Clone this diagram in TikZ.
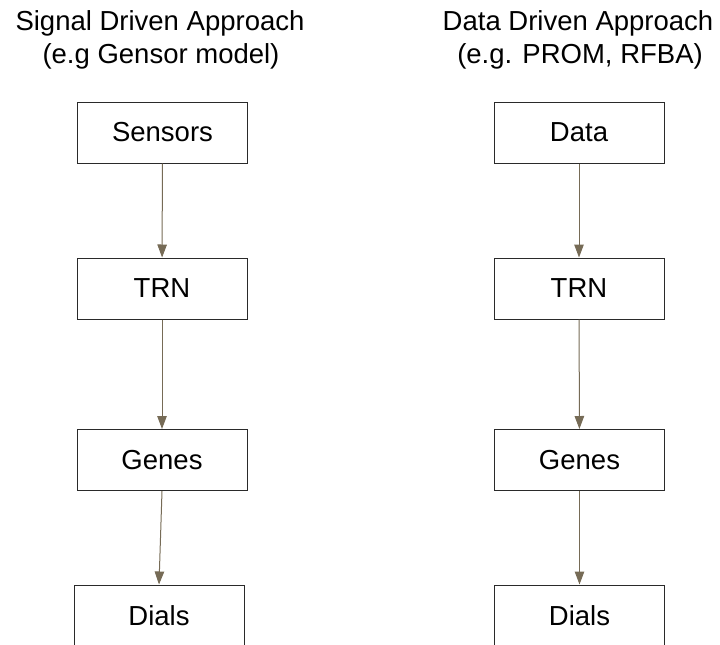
\documentclass[tikz,border=0pt]{standalone}
\usepackage{fontspec}
\setmainfont{Liberation Sans}
\usetikzlibrary{arrows.meta}
\definecolor{linkcol}{HTML}{766B56}
\definecolor{boxline}{HTML}{2A2A2A}
\tikzset{
  stage/.style={draw=boxline, line width=1pt, fill=white, minimum width=170pt,
    minimum height=61pt, inner sep=0pt, font=\fontsize{27.5}{33}\selectfont},
  heading/.style={inner sep=0pt, anchor=base, font=\fontsize{27.5}{33}\selectfont},
  link/.style={draw=linkcol, line width=1pt,
    -{Triangle[length=13pt, width=9.5pt]}}
}
\begin{document}
\begin{tikzpicture}[x=1pt, y=-1pt]
  \useasboundingbox (0,0) rectangle (720,645);

  % column headings
  \node[heading] (lt1) at (160,30) {Signal Driven Approach};
  \node[heading] (lt2) at (161,63) {(e.g Gensor model)};
  \node[heading] (rt1) at (578,30) {Data Driven Approach};
  \node[heading] (rt2) at (580,63) {(e.g. PROM, RFBA)};

  % signal driven chain
  \node[stage] (sens)  at (162.5,132.5) {Sensors};
  \node[stage] (ltrn)  at (162,288.5)   {TRN};
  \node[stage] (lgen)  at (162,460)     {Genes};
  \node[stage] (ldial) at (159,615.5)   {Dials};

  % data driven chain
  \node[stage] (data)  at (579,132.5) {Data};
  \node[stage] (rtrn)  at (579,288.5) {TRN};
  \node[stage] (rgen)  at (579.5,460) {Genes};
  \node[stage] (rdial) at (579.5,615.5) {Dials};

  \draw[link] (sens) -- (ltrn);
  \draw[link] (ltrn) -- (lgen);
  \draw[link] (lgen.south) -- (ldial.north);

  \draw[link] (data) -- (rtrn);
  \draw[link] (rtrn) -- (rgen);
  \draw[link] (rgen) -- (rdial);
\end{tikzpicture}
\end{document}
